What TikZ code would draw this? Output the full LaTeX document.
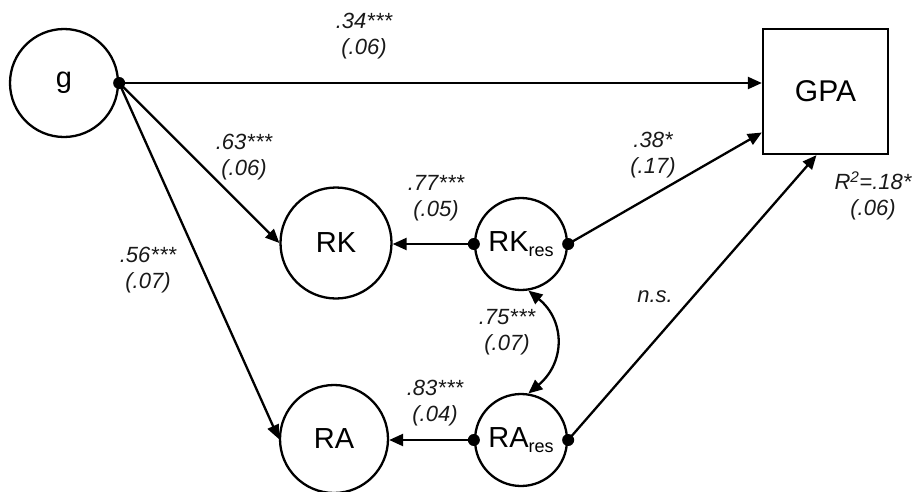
\documentclass[tikz,border=0pt]{standalone}
\usepackage{fontspec}
\setmainfont{Liberation Sans}
\usetikzlibrary{arrows.meta}
\begin{document}
\begin{tikzpicture}[x=1pt,y=-1pt,
  lat/.style={circle,draw,line width=2.3pt,inner sep=0pt,font=\fontsize{29}{29}\selectfont},
  obs/.style={rectangle,draw,line width=2.3pt,minimum size=125pt,inner sep=0pt,font=\fontsize{30}{30}\selectfont},
  pth/.style={line width=2.3pt,-{Triangle[length=14pt,width=12pt]}},
  cov/.style={line width=2.3pt,{Triangle[length=14pt,width=12pt]}-{Triangle[length=14pt,width=12pt]}},
  est/.style={font=\fontsize{22}{26}\selectfont\itshape,align=center,text=black!90},
  dot/.style={circle,fill,inner sep=0pt,minimum size=12pt}
]
\useasboundingbox (0,0) rectangle (914,491);
\newcommand{\rsub}[1]{#1\raisebox{-5pt}{\fontsize{18}{18}\selectfont res}}

\node[lat,minimum size=108pt] (g) at (64,83) {g};
\node[obs] (GPA) at (825.5,91.5) {GPA};
\node[lat,minimum size=111pt] (RK) at (336,243) {RK};
\node[lat,minimum size=108pt] (RA) at (334,439) {RA};
\node[lat,minimum size=92pt] (RKr) at (521,244) {\rsub{RK}};
\node[lat,minimum size=92pt] (RAr) at (521,440) {\rsub{RA}};

\coordinate (gpaK) at ([yshift=-41pt]GPA.west);
\coordinate (gpaA) at ([xshift=-9pt]GPA.south);

% paths from g
\draw[pth] (g.east) -- (g.east -| GPA.west);
\draw[pth] (g.east) -- (RK.west);
\draw[pth] (g.east) -- (RA.west);
% residual paths
\draw[pth] (RKr.west) -- (RKr.west -| RK.east);
\draw[pth] (RAr.west) -- (RAr.west -| RA.east);
\draw[pth] (RKr.east) -- (gpaK);
\draw[pth] (RAr.east) -- (gpaA);
% covariance
\draw[cov] (RKr.-81) .. controls +(37,30) and +(37,-31) .. (RAr.81);

% dots
\node[dot] (dg) at (g.east) {};
\node[dot] (dkw) at (RKr.west) {};
\node[dot] (dke) at (RKr.east) {};
\node[dot] (daw) at (RAr.west) {};
\node[dot] (dae) at (RAr.east) {};

% estimates
\node[est] (e34) at (364,36) {.34***\\(.06)};
\node[est] (e63) at (244,157) {.63***\\(.06)};
\node[est] (e56) at (148,270) {.56***\\(.07)};
\node[est] (e77) at (436,198) {.77***\\(.05)};
\node[est] (e38) at (653,155) {.38*\\(.17)};
\node[est] (e75) at (507,332) {.75***\\(.07)};
\node[est] (e83) at (435,403) {.83***\\(.04)};
\node[est] (eR2) at (873,196) {R\textsuperscript{2}=.18*\\(.06)};
\node[est] (ens) at (655,297) {n.s.};
\end{tikzpicture}
\end{document}
